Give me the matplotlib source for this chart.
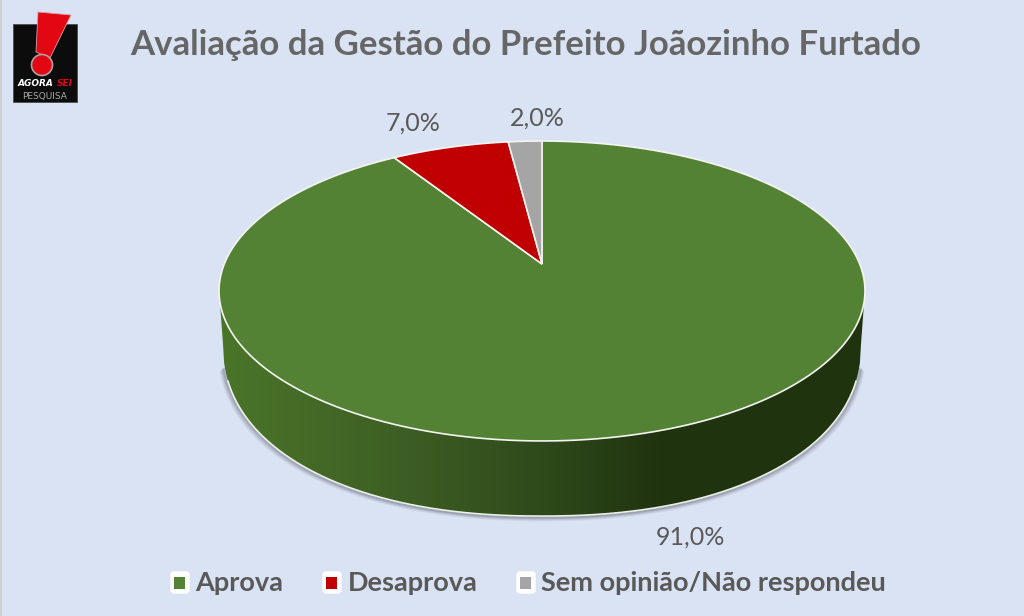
import numpy as np
import matplotlib
matplotlib.use('Agg')
import matplotlib.pyplot as plt
from matplotlib.colors import LinearSegmentedColormap
from matplotlib.patches import Polygon, Rectangle, Circle, FancyBboxPatch

title = 'Avaliação da Gestão do Prefeito Joãozinho Furtado'
categories = ['Aprova', 'Desaprova', 'Sem opinião/Não respondeu']
values = [91.0, 7.0, 2.0]
colors = ['#548235', '#C00000', '#A5A5A5']
label_pos = [(690, 537), (413, 123), (537, 118)]
legend_box_x = [170, 322, 516]
legend_text_x = [195, 348, 541]

bg = '#DAE3F3'
text_col = '#595959'

# apex of the slices and perspective of the disc
cx, cy = 542, 264
A, B, k = 317.7, 145.1, 0.18


def rim(t):
    # t is the angle clockwise from 12 o'clock
    u, v = np.sin(t), np.cos(t)
    w = 1 + k * v
    return cx + A * u / w, cy - B * v / w


def lower(dx, a=319.0, b=172.0, c=344.0, p=2.2):
    # bottom edge of the disc, a bit squarer than an ellipse
    return c + b * (1 - np.abs(dx / a) ** p) ** (1 / p)


fig = plt.figure(figsize=(10.24, 6.16), dpi=100, facecolor=bg)
ax = fig.add_axes([0, 0, 1, 1])
ax.axis('off')

ax.add_patch(Rectangle((0, 0), 2, 616, fc='#D0D0D0', ec='none', zorder=1))

# side of the disc
t = np.linspace(np.pi * 0.5, np.pi * 1.5, 300)
xt, yt = rim(t)
i0, i1 = np.argmax(xt), np.argmin(xt)
dx = np.linspace(-319, 319, 600)
side = np.r_[np.c_[xt[i0:i1 + 1], yt[i0:i1 + 1]], np.c_[cx + dx, lower(dx)]]

# soft shadow under the edge
sh = np.linspace(-317, 317, 600)
for off, alpha in [(4, 0.06), (3, 0.10), (2, 0.16), (1, 0.24)]:
    ax.plot(cx + sh * (1 + off / 319), lower(sh) + off, color='#404050', alpha=alpha, lw=2, zorder=2)

cmap = LinearSegmentedColormap.from_list('side', [
    (0.0, '#4A7529'), (0.25, '#3F6125'), (0.5, '#2F4A1B'),
    (0.68, '#20340F'), (1.0, '#20330F')])
grad = np.linspace(0, 1, 512).reshape(1, -1)
im = ax.imshow(grad, cmap=cmap, extent=(220, 864, 520, 280), aspect='auto', zorder=3)
clip = Polygon(side, closed=True, transform=ax.transData, fc='none', ec='none')
ax.add_patch(clip)
im.set_clip_path(clip)
edge = np.linspace(-314, 314, 500)
ax.plot(cx + edge, lower(edge), color='#EDF0E8', lw=1.1, zorder=4)

# top of the disc
start = 0.0
for val, col in zip(values, colors):
    end = start + val / sum(values) * 2 * np.pi
    a = np.linspace(start, end, 300)
    x, y = rim(a)
    pts = np.r_[[[cx, cy]], np.c_[x, y]]
    ax.add_patch(Polygon(pts, closed=True, fc=col, ec='#F4F4F0', lw=1.2, zorder=5))
    start = end

for val, pos in zip(values, label_pos):
    ax.text(pos[0], pos[1], ('%.1f%%' % val).replace('.', ','), ha='center', va='center',
            fontsize=18, color=text_col, family='Lato', zorder=6)

ax.text(525.5, 45, title, ha='center', va='center', fontsize=25, fontweight='bold',
        color='#666666', family='Lato')

# legend
for name, col, bx, tx in zip(categories, colors, legend_box_x, legend_text_x):
    ax.add_patch(FancyBboxPatch((bx + 1, 572), 18, 21, boxstyle='round,pad=0,rounding_size=3',
                                fc='white', ec='white', lw=1, zorder=6))
    ax.add_patch(Rectangle((bx + 4, 577), 11, 12, fc=col, ec='none', zorder=7))
    ax.text(tx, 583, name, ha='left', va='center', fontsize=19.5, fontweight='bold',
            color=text_col, family='Lato', zorder=6)

# logo
ax.add_patch(Rectangle((13, 24), 64, 78, fc='#0C0C0C', ec='#444444', lw=0.5, zorder=6))
ax.add_patch(Polygon([(38, 12), (71, 15), (50, 58), (36, 52)], closed=True,
                     fc='#E30613', ec='#D9A0A0', lw=0.6, zorder=7))
ax.add_patch(Circle((42, 65), 10.5, fc='#E30613', ec='#B0A0A0', lw=1.2, zorder=7))
ax.text(18, 84, 'AGORA', ha='left', va='center', fontsize=6.5, fontweight='bold', style='italic',
        color='white', family='DejaVu Sans', zorder=8)
ax.text(57, 84, 'SEI', ha='left', va='center', fontsize=6.5, fontweight='bold', style='italic',
        color='#E30613', family='DejaVu Sans', zorder=8)
ax.text(45, 96, 'PESQUISA', ha='center', va='center', fontsize=6.5, color='#AAAAAA',
        family='DejaVu Sans', zorder=8)

ax.set_xlim(0, 1024)
ax.set_ylim(616, 0)

fig.savefig('out.png', dpi=100, facecolor=bg)
